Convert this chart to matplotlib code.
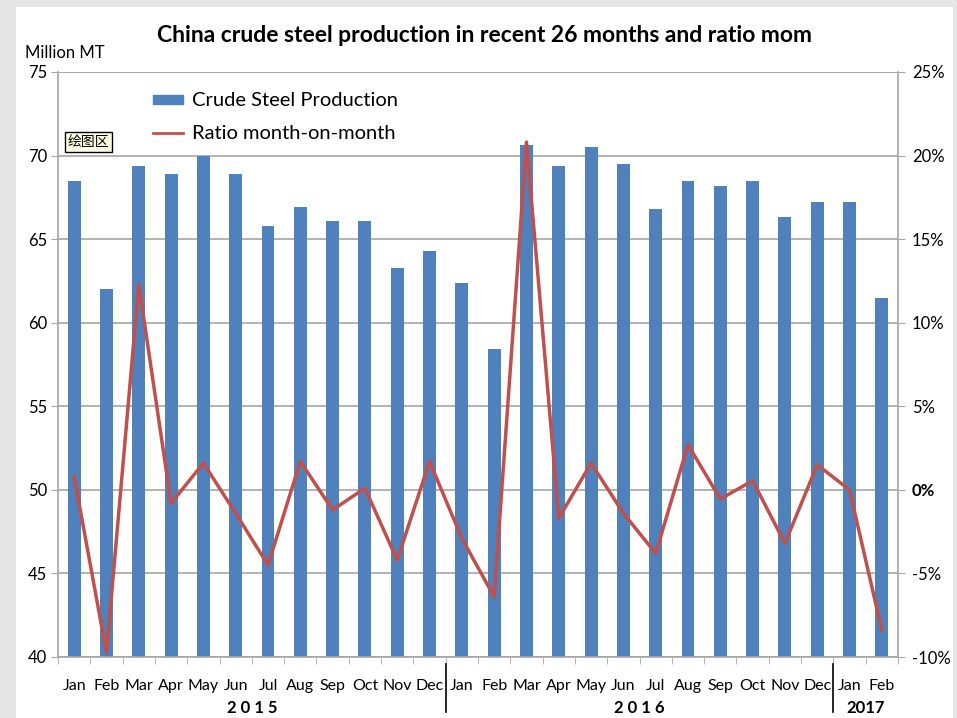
import numpy as np
import matplotlib.pyplot as plt
from matplotlib.patches import Rectangle
from matplotlib.lines import Line2D

months = ["Jan", "Feb", "Mar", "Apr", "May", "Jun", "Jul", "Aug", "Sep", "Oct", "Nov", "Dec",
          "Jan", "Feb", "Mar", "Apr", "May", "Jun", "Jul", "Aug", "Sep", "Oct", "Nov", "Dec",
          "Jan", "Feb"]
years = ["2 0 1 5", "2 0 1 6", "2017"]
year_span = [(0, 11), (12, 23), (24, 25)]

production = [68.5, 62.0, 69.4, 68.9, 70.0, 68.9, 65.8, 66.9, 66.1, 66.1, 63.3, 64.3,
              62.4, 58.4, 70.65, 69.4, 70.5, 69.5, 66.8, 68.5, 68.2, 68.5, 66.3, 67.2,
              67.2, 61.5]
ratio = [0.8, -9.75, 12.3, -0.8, 1.6, -1.4, -4.5, 1.7, -1.2, 0.1, -4.2, 1.7,
         -2.9, -6.4, 20.8, -1.7, 1.6, -1.4, -3.8, 2.7, -0.55, 0.55, -3.2, 1.5,
         0.0, -8.4]

blue = "#4F81BD"
red = "#C0504D"
grid = "#A6A6A6"
plt.rcParams["font.family"] = ["Lato", "DejaVu Sans"]

fig = plt.figure(figsize=(9.57, 7.18), dpi=100)
fig.patch.set_facecolor("#E6E6E6")
# white chart panel
fig.patches.append(Rectangle((16 / 957, 0), 937 / 957, 1 - 7 / 718, transform=fig.transFigure,
                             facecolor="white", edgecolor="none", zorder=-10))

ax = fig.add_axes([58 / 957, 1 - 657 / 718, 840 / 957, 585 / 718])
ax.set_facecolor("none")
x = np.arange(len(months))
ax.bar(x, production, width=0.4, color=blue, zorder=2)
ax.set_ylim(40, 75)
ax.set_xlim(-0.5, len(months) - 0.5)
ax.set_yticks(np.arange(40, 76, 5))
ax.yaxis.grid(True, color=grid, linewidth=1.2, zorder=0)
ax.set_axisbelow(True)
for s in ["top", "right"]:
    ax.spines[s].set_visible(False)
for s in ["left", "bottom"]:
    ax.spines[s].set_color(grid)
    ax.spines[s].set_linewidth(1.2)
ax.tick_params(axis="y", length=5, color=grid, labelsize=12, pad=3)
ax.set_xticks(x)
ax.set_xticklabels(months, fontsize=11.5)
ax.tick_params(axis="x", length=0, pad=16)
ax.set_xticks(np.arange(-0.5, len(months), 1), minor=True)
ax.tick_params(axis="x", which="minor", length=5, color=grid)

ax2 = ax.twinx()
ax2.plot(x, ratio, color=red, linewidth=2.5, zorder=3)
ax2.set_ylim(-10, 25)
ax2.set_yticks(np.arange(-10, 26, 5))
ax2.set_yticklabels([f"{v}%" for v in range(-10, 26, 5)])
ax2.tick_params(axis="y", length=5, color=grid, labelsize=12, pad=5)
for lab in ax2.get_yticklabels():
    if lab.get_text() == "0%":
        lab.set_fontweight("bold")
for s in ["top", "left", "bottom"]:
    ax2.spines[s].set_visible(False)
ax2.spines["right"].set_color(grid)
ax2.spines["right"].set_linewidth(1.2)

# top border line of plot area
ax.axhline(75, color=grid, linewidth=1.2, zorder=1)

# years and separators
for name, (a, b) in zip(years, year_span):
    xc = (a + b) / 2
    ax.annotate(name, xy=(xc, 0), xycoords=("data", "axes fraction"), xytext=(0, -37),
                textcoords="offset points", ha="center", va="center", fontsize=12,
                fontweight="bold")
for sep in [11.5, 23.5]:
    ax.plot([sep, sep], [-0.012, -0.094], transform=ax.get_xaxis_transform(), color="black",
            linewidth=1.2, clip_on=False)

# legend
handles = [Rectangle((0, 0), 1, 1, color=blue),
           Line2D([0], [0], color=red, linewidth=2)]
leg = ax.legend(handles, ["Crude Steel Production", "Ratio month-on-month"], loc="upper left",
                bbox_to_anchor=(0.113, 0.965), frameon=False, fontsize=14.5, handlelength=1.5,
                handleheight=0.3, labelspacing=0.77, handletextpad=0.45, borderpad=0,
                borderaxespad=0)

fig.text(68 / 957, 1 - 142 / 718, "绘图区", family=["Noto Sans CJK SC", "DejaVu Sans"], fontsize=10,
         va="center", ha="left",
         bbox=dict(boxstyle="square,pad=0.2", facecolor="#FFFFE1", edgecolor="black", linewidth=1))

fig.text(484 / 957, 1 - 36 / 718, "China crude steel production in recent 26 months and ratio mom",
         ha="center", va="center", fontsize=16.5, fontweight="bold")
fig.text(25 / 957, 1 - 53 / 718, "Million MT", ha="left", va="center", fontsize=12)

fig.savefig("out.png", dpi=100, facecolor=fig.get_facecolor())
